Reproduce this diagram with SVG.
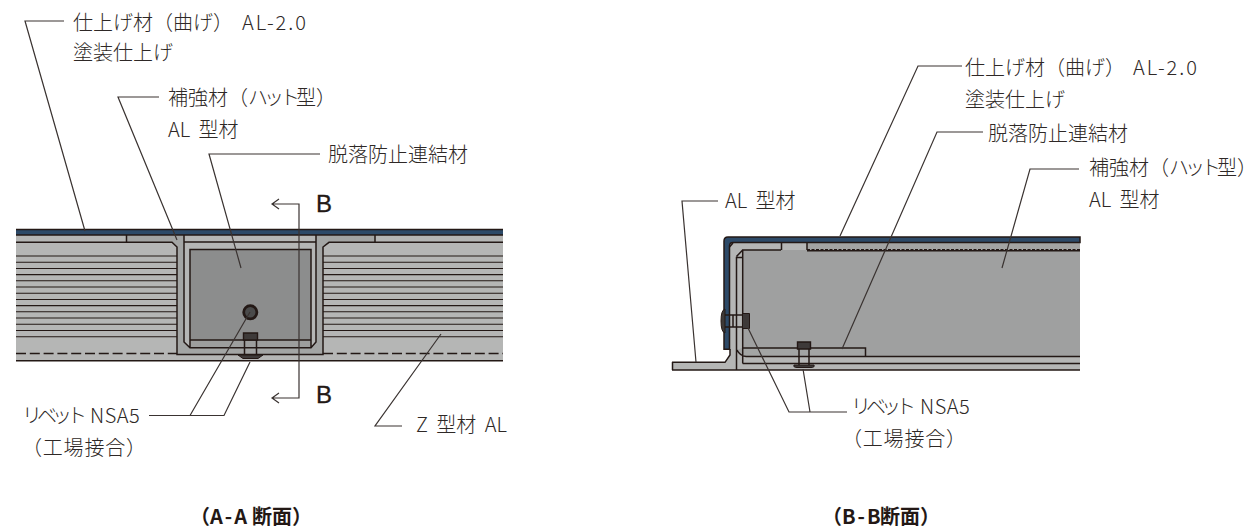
<svg xmlns="http://www.w3.org/2000/svg" width="1256" height="532" viewBox="0 0 1256 532">
<style>
text{font-family:"Noto Sans CJK JP","Noto Sans",sans-serif;font-size:20px;fill:#2e2826;font-weight:300;text-spacing-trim:space-all}
.b{font-family:"Liberation Sans",sans-serif;font-size:24px;font-weight:400;fill:#231815;stroke:#231815;stroke-width:.3}
.t{font-weight:700;fill:#231815}
.w{word-spacing:4px}
.n{letter-spacing:-5px}
.c{letter-spacing:-4px}
.s{letter-spacing:2px}
.l{fill:none;stroke:#3a3331;stroke-width:1.2}
.k{fill:none;stroke:#231815;stroke-width:1.5}
.m{fill:none;stroke:#231815;stroke-width:1.1}
.h{fill:none;stroke:#231815;stroke-width:1.6}
.d{fill:none;stroke:#231815;stroke-width:1.4;stroke-dasharray:10 3.8}
</style>
<rect width="1256" height="532" fill="#fff"/>
<g id="section-aa">
<rect x="16" y="235" width="487" height="126" fill="#b5b6b5"/>
<rect x="126" y="236" width="46" height="6" fill="#a3a4a3"/>
<rect x="329" y="236" width="46" height="6" fill="#a3a4a3"/>
<path d="M172 236H184V342L190 347.500H311L316 342V236H329V242L323 247V354.500H177V247L172 242Z" fill="#a3a5a4"/>
<rect x="190" y="249.500" width="121" height="98" fill="#8c8d8d"/>
<rect x="190" y="340" width="121" height="7.500" fill="#9d9e9d"/>
<rect x="16" y="229.500" width="487" height="5.500" fill="#2d4a68"/>
<path class="h" d="M16 229.500H503M16 235H503"/>
<path class="k" d="M16 242.300H172L177 247V354.600H323V247L329 242.300H503M126.500 235V242M375 235V242M184 235V342L190 347.700H311L316 342V235M190 347.700V249.500H311V347.700M190 340H311M184 242H316M16 360.800H503"/>
<path class="m" d="M16 256H177M16 262.300H177M16 268.500H177M16 274.600H177M16 280.800H177M16 287H177M16 293.200H177M16 299.500H177M16 305.600H177M16 311.800H177M16 318H177M16 324.200H177M16 330.500H177M16 336.700H177M323 256H503M323 262.300H503M323 268.500H503M323 274.600H503M323 280.800H503M323 287H503M323 293.200H503M323 299.500H503M323 305.600H503M323 311.800H503M323 318H503M323 324.200H503M323 330.500H503M323 336.700H503"/>
<path class="d" d="M16 353.500H177M323 353.500H503"/>
<circle cx="250.300" cy="312.300" r="6.600" fill="#4a4a4a" stroke="#231815" stroke-width="2.800"/>
<path d="M243.500 333H257.500V340H243.500Z" fill="#3e3a39" stroke="#231815" stroke-width="1.400"/>
<path class="k" d="M244.500 340V355M256.500 340V355"/>
<path d="M238 355H263L258 358.500H243Z" fill="#3e3a39" stroke="#231815"/>
</g>
<g id="section-bb">
<path d="M729 243H1080V250H742.500V370H672V362.300H725L730 355V349H729Z" fill="#b5b6b5"/>
<rect x="742.500" y="250" width="337.500" height="107" fill="#9fa0a0"/>
<rect x="807" y="243" width="273" height="7" fill="#a3a4a3"/>
<path d="M742 348H865V356.500H746Q740 356 737 350Z" fill="#a3a5a4"/>
<rect x="742" y="357" width="338" height="13" fill="#b5b6b5"/>
<path d="M724 349.300V241Q724 237 728 237H1080V242.500H733Q729.500 242.500 729.500 246V349.300Z" fill="#2d4a68" stroke="#231815" stroke-width="1.500"/>
<path class="k" d="M672 362.300H725L730 355V349M672 370H1080M672.500 362V370M736.500 370V257.500H742.500M733 243L729.500 247M736.500 256.500L742.700 250M742.700 363.500V250H781M781.500 243V250M807 243V250M807 250.700H1080M742.700 348H865.500V356.500H746Q740 356 737 350M865.500 356.500H1080M742.700 363.500H1080"/>
<path d="M807 249.500H1080" stroke="#231815" stroke-width="1" stroke-dasharray="3 1.500" fill="none"/>
<path d="M725 309Q721 310 721 321Q721 332 725 333Z" fill="#3e3a39" stroke="#231815"/>
<path d="M742.500 313.500H749.500V328.500H742.500Z" fill="#3e3a39" stroke="#231815"/>
<path class="k" d="M725 315H742M725 327H742M733 315V327"/>
<path d="M797.500 342H810.500V349H797.500Z" fill="#3e3a39" stroke="#231815" stroke-width="1.400"/>
<path class="k" d="M799 349V365M809 349V365"/>
<path d="M794 365H814Q815 367.500 811 367.500H797Q793 367.500 794 365Z" fill="#3e3a39" stroke="#231815"/>
</g>
<g id="connectors">
<path class="l" d="M64 21H25L85 231M159 97H118L177 240M320 154H209L241 268M149 415.500H224L250 362M190 415.500L250 312M402 426H375L441 334M718 201H682L696 362M962 66H918L840 236M983 132H937L842 349M1079 169H1030L1002 268M847 412H789L748 328M810 412L803 369"/>
<path class="l" d="M272 204H299V398H272M279 199L272 204L279 209M279 393L272 398L279 403"/>
</g>
<g id="labels">
<text x="73" y="29.500">仕上げ材（曲げ） <tspan x="242" class="s">AL-2.0</tspan></text>
<text x="73" y="60">塗装仕上げ</text>
<text x="168" y="105">補強材（<tspan class="c">ハット</tspan>型）</text>
<text class="w" x="168" y="136.500">AL 型材</text>
<text x="328" y="162">脱落防止連結材</text>
<text class="b" x="316" y="212">B</text>
<text class="b" x="316" y="403">B</text>
<text x="22" y="423"><tspan class="n">リベット</tspan><tspan x="90" letter-spacing="0.500">NSA5</tspan></text>
<text x="22" y="455" letter-spacing="0.800">（工場接合）</text>
<text class="w" x="416" y="432">Z 型材 AL</text>
<text class="t" x="190" y="524">（<tspan class="s">A-A</tspan> <tspan x="252">断面）</tspan></text>
<text class="w" x="725" y="208">AL 型材</text>
<text x="965" y="75">仕上げ材（曲げ） <tspan x="1133" class="s">AL-2.0</tspan></text>
<text x="965" y="107">塗装仕上げ</text>
<text x="988" y="141">脱落防止連結材</text>
<text x="1089" y="175">補強材（<tspan class="c">ハット</tspan>型）</text>
<text class="w" x="1089" y="207">AL 型材</text>
<text x="851" y="414"><tspan class="n">リベット</tspan><tspan x="920" letter-spacing="0.500">NSA5</tspan></text>
<text x="842" y="446" letter-spacing="0.800">（工場接合）</text>
<text class="t" x="822" y="524">（<tspan class="s">B-B</tspan> <tspan x="880">断面）</tspan></text>
</g>
</svg>
